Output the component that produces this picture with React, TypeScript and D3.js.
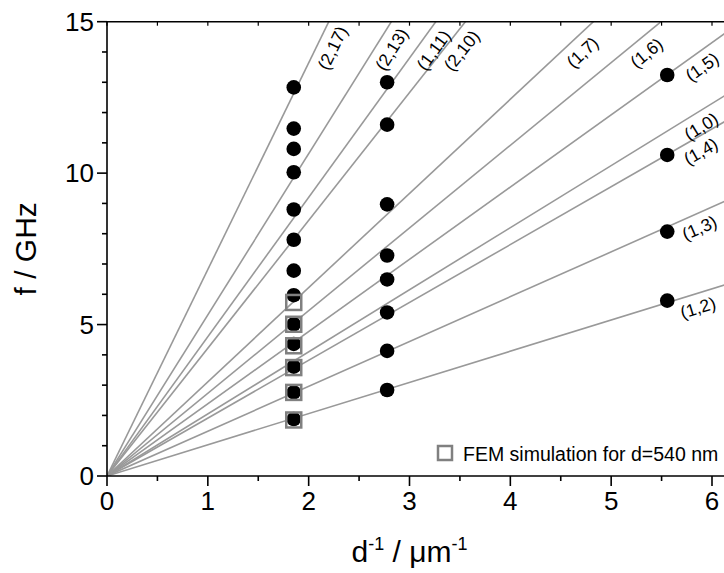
import React from "react";
import * as d3 from "d3";

const W = 724;
const H = 573;

// Mode lines (label, slope f·d in GHz·µm)
const modeLabels = ["(1,2)", "(1,3)", "(1,4)", "(1,0)", "(1,5)", "(1,6)", "(1,7)", "(2,10)", "(1,11)", "(2,13)", "(2,17)"];
const modeSlopes = [1.03, 1.48, 1.91, 2.05, 2.385, 2.73, 3.11, 4.22, 4.6, 5.32, 6.82];

// Measured points
const col1X = 1.852;
const col1F = [1.88, 2.76, 3.61, 4.36, 5.01, 5.97, 6.78, 7.8, 8.8, 10.03, 10.8, 11.47, 12.83];
const col2X = 2.778;
const col2F = [2.84, 4.13, 5.4, 6.49, 7.28, 8.97, 11.6, 13.0];
const col3X = 5.556;
const col3F = [5.79, 8.07, 10.6, 13.24];

// FEM simulation (squares)
const femX = 1.852;
const femF = [1.85, 2.76, 3.58, 4.3, 5.01, 5.73];

const xTicks = [0, 1, 2, 3, 4, 5, 6];
const yTicks = [0, 5, 10, 15];
const legendText = "FEM simulation for d=540 nm";

const FONT = "'Liberation Sans', Arial, Helvetica, sans-serif";

export default function App() {
  const x = d3.scaleLinear().domain([0, 6]).range([107, 712]);
  const y = d3.scaleLinear().domain([0, 15]).range([476, 21.7]);
  const xMax = x.invert(W);
  const left = x(0);
  const top = y(15);
  const bottom = y(0);

  const xMinor = d3.range(0, 6.01, 0.5);
  const yMinor = d3.range(0, 15.01, 1);

  const pts = [
    ...col1F.map((f) => ({ x: col1X, f })),
    ...col2F.map((f) => ({ x: col2X, f })),
    ...col3F.map((f) => ({ x: col3X, f })),
  ];

  const pxPerX = x(1) - x(0);
  const pxPerY = y(0) - y(1);

  return (
    <svg
      width={W}
      height={H}
      style={{ position: "fixed", left: 0, top: 0, background: "#fff" }}
      fontFamily={FONT}
    >
      <defs>
        <clipPath id="plot">
          <rect x={left} y={top} width={W - left} height={bottom - top} />
        </clipPath>
      </defs>
      <rect x={0} y={0} width={W} height={H} fill="#fff" />
      {/* mode lines */}
      <g clipPath="url(#plot)">
        {modeSlopes.map((s, i) => {
          const xe = Math.min(15 / s, xMax) + 0.05;
          const line = d3.line<[number, number]>()
            .x((d) => x(d[0]))
            .y((d) => y(d[1]));
          return (
            <path
              key={i}
              d={line([[0, 0], [xe, s * xe]]) || ""}
              stroke="#999"
              strokeWidth={1.6}
              fill="none"
            />
          );
        })}
      </g>
      {/* labels */}
      {modeSlopes.map((s, i) => {
        const a = Math.atan((s * pxPerY) / pxPerX);
        const topExit = 15 / s < xMax - 0.3;
        const ax = topExit ? 14.35 / s : 5.82;
        const off = topExit ? 15 : 14;
        const px = x(ax) + Math.sin(a) * off;
        const py = y(s * ax) + Math.cos(a) * off;
        const deg = (-a * 180) / Math.PI;
        return (
          <text
            key={i}
            x={0}
            y={0}
            transform={`translate(${px},${py}) rotate(${deg})`}
            textAnchor="middle"
            dominantBaseline="central"
            fontSize={17.5}
            fill="#000"
          >
            {modeLabels[i]}
          </text>
        );
      })}
      {/* points */}
      {pts.map((p, i) => (
        <circle key={i} cx={x(p.x)} cy={y(p.f)} r={7.3} fill="#000" />
      ))}
      {/* FEM squares */}
      {femF.map((f, i) => (
        <rect
          key={i}
          x={x(femX) - 7.5}
          y={y(f) - 7.5}
          width={15}
          height={15}
          fill="none"
          stroke="#808080"
          strokeWidth={2.5}
        />
      ))}
      {/* axes */}
      <line x1={left} x2={W} y1={top} y2={top} stroke="#000" strokeWidth={1.6} />
      <line x1={left} x2={W} y1={bottom} y2={bottom} stroke="#000" strokeWidth={1.6} />
      <line x1={left} x2={left} y1={top} y2={bottom} stroke="#000" strokeWidth={1.6} />
      {xMinor.map((v, i) => (
        <g key={i}>
          <line
            x1={x(v)}
            x2={x(v)}
            y1={bottom}
            y2={bottom + (Number.isInteger(v) ? 10 : 5)}
            stroke="#000"
            strokeWidth={1.6}
          />
          <line x1={x(v)} x2={x(v)} y1={top} y2={top + 4} stroke="#000" strokeWidth={1.2} />
        </g>
      ))}
      {yMinor.map((v, i) => (
        <line
          key={i}
          x1={left - (v % 5 === 0 ? 10 : 5)}
          x2={left}
          y1={y(v)}
          y2={y(v)}
          stroke="#000"
          strokeWidth={1.6}
        />
      ))}
      {xTicks.map((v) => (
        <text key={v} x={x(v)} y={bottom + 34} textAnchor="middle" fontSize={26} fill="#000">
          {v}
        </text>
      ))}
      {yTicks.map((v) => (
        <text
          key={v}
          x={left - 13}
          y={y(v)}
          textAnchor="end"
          dominantBaseline="central"
          fontSize={26}
          fill="#000"
        >
          {v}
        </text>
      ))}
      {/* axis titles */}
      <text
        transform={`translate(36,${(top + bottom) / 2}) rotate(-90)`}
        textAnchor="middle"
        fontSize={30}
        fill="#000"
      >
        f / GHz
      </text>
      <text x={x(3)} y={562} textAnchor="middle" fontSize={30} fill="#000">
        d
        <tspan fontSize={18} dy={-12}>-1</tspan>
        <tspan dy={12}> / </tspan>
        <tspan>μm</tspan>
        <tspan fontSize={18} dy={-12}>-1</tspan>
      </text>
      {/* legend */}
      <rect x={438} y={446} width={14} height={14} fill="none" stroke="#808080" strokeWidth={2.5} />
      <text x={463} y={461} fontSize={19.5} fill="#000">
        {legendText}
      </text>
    </svg>
  );
}
